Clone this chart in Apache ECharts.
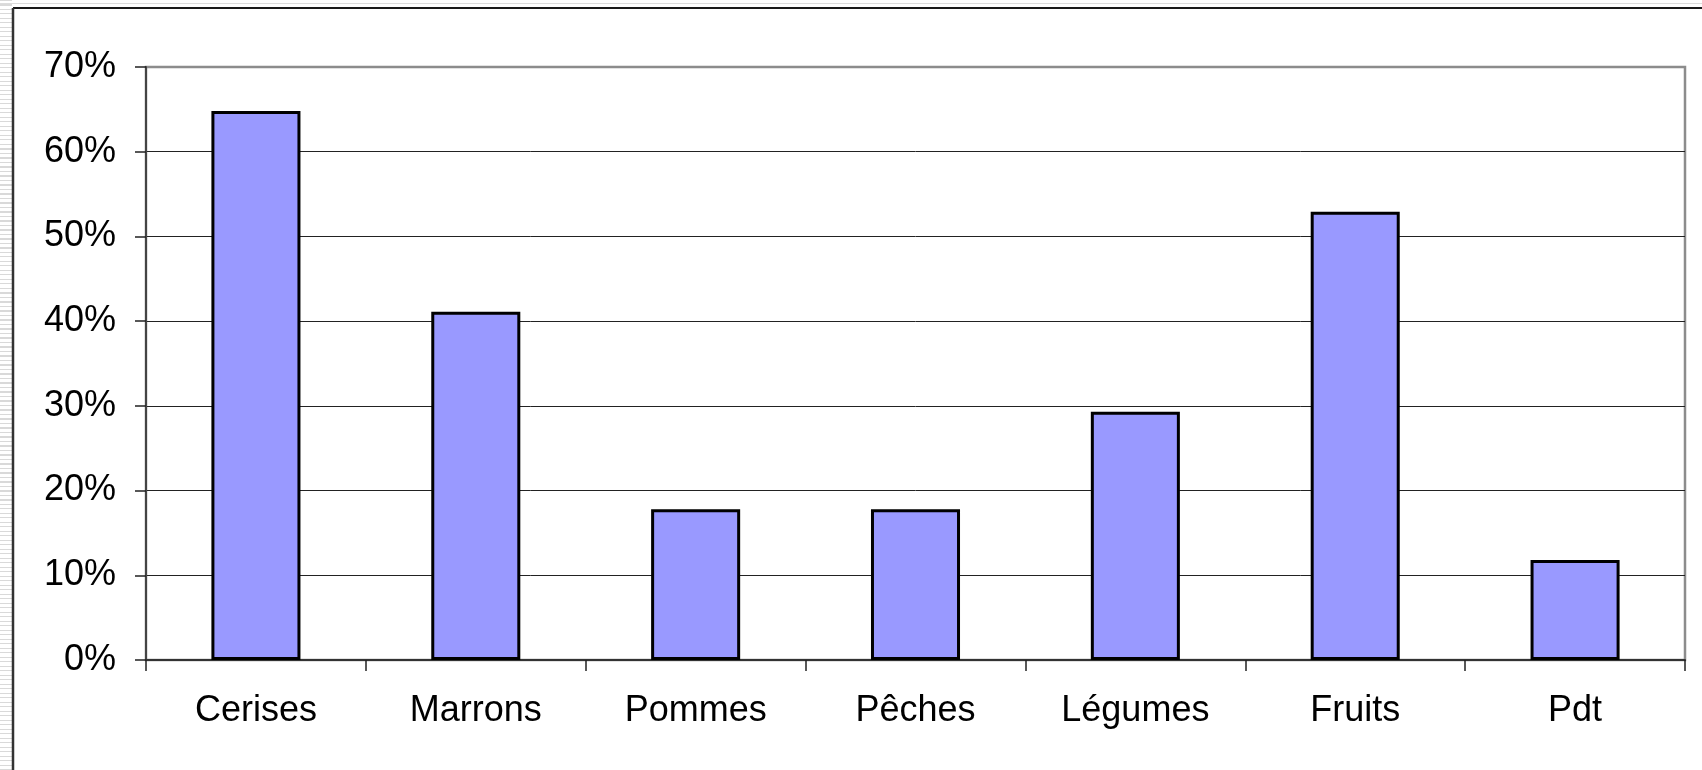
<!DOCTYPE html>
<html>
<head>
<meta charset="utf-8">
<title>Part par produit</title>
<script src="https://cdn.jsdelivr.net/npm/echarts@6/dist/echarts.min.js"></script>
<style>
  html, body { margin: 0; padding: 0; background: #fff; }
  #wrap { position: relative; width: 1702px; height: 770px; overflow: hidden; }
  /* striped margin outside the chart frame */
  #stripeLeft {
    position: absolute; left: 0; top: 0; width: 12px; height: 770px;
    background: repeating-linear-gradient(to bottom, #d9d9d9 0px, #d9d9d9 1px, #ffffff 1px, #ffffff 4.5px);
  }
  #stripeTop {
    position: absolute; left: 0; top: 3px; width: 1702px; height: 1px; background: #dcdcdc;
  }
  #chart { position: absolute; left: 0; top: 0; width: 1702px; height: 770px; }
</style>
</head>
<body>
<div id="wrap">
  <div id="stripeLeft"></div>
  <div id="stripeTop"></div>
  <div id="chart"></div>
</div>
<script>
// Categories and their shares (percent)
const categories = ['Cerises', 'Marrons', 'Pommes', 'Pêches', 'Légumes', 'Fruits', 'Pdt'];
const shares = [64.8, 41.1, 17.8, 17.8, 29.3, 52.9, 11.8];

// Value axis ticks
const yMin = 0;
const yMax = 70;
const yStep = 10;

const chart = echarts.init(document.getElementById('chart'), null, { renderer: 'canvas' });

const font = 'Liberation Sans, Arial, sans-serif';

// gridlines are dark; the topmost one doubles as the grey plot-area border
const gridColors = [];
for (let v = yMin; v <= yMax; v += yStep) gridColors.push(v === yMax ? '#8c8c8c' : '#222');

chart.setOption({
  animation: false,
  backgroundColor: 'transparent',
  grid: {
    left: 146, top: 67, right: 17, bottom: 110,
    show: true,
    borderColor: '#8c8c8c',
    borderWidth: 2.5,
    backgroundColor: 'transparent'
  },
  xAxis: {
    type: 'category',
    data: categories,
    boundaryGap: true,
    axisLine: { show: true, lineStyle: { color: '#333', width: 2 } },
    axisTick: { show: true, length: 11, lineStyle: { color: '#222', width: 1.5 } },
    axisLabel: { color: '#000', fontFamily: font, fontSize: 36, margin: 33 }
  },
  yAxis: {
    type: 'value',
    min: yMin,
    max: yMax,
    interval: yStep,
    axisLine: { show: true, lineStyle: { color: '#444', width: 2 } },
    axisTick: { show: true, length: 11, lineStyle: { color: '#222', width: 1.5 } },
    axisLabel: { color: '#000', fontFamily: font, fontSize: 36, margin: 30, formatter: '{value}%' },
    splitLine: { show: true, lineStyle: { color: gridColors, width: 1 } }
  },
  series: [{
    type: 'bar',
    data: shares,
    barWidth: '40.5%',
    itemStyle: { color: '#9999FF', borderColor: '#000', borderWidth: 3 }
  }],
  graphic: [
    { type: 'line', shape: { x1: 13, y1: 8, x2: 1702, y2: 8 }, style: { stroke: '#1a1a1a', lineWidth: 2 } },
    { type: 'line', shape: { x1: 13, y1: 8, x2: 13, y2: 770 }, style: { stroke: '#333', lineWidth: 2.5 } }
  ]
});
</script>
</body>
</html>
